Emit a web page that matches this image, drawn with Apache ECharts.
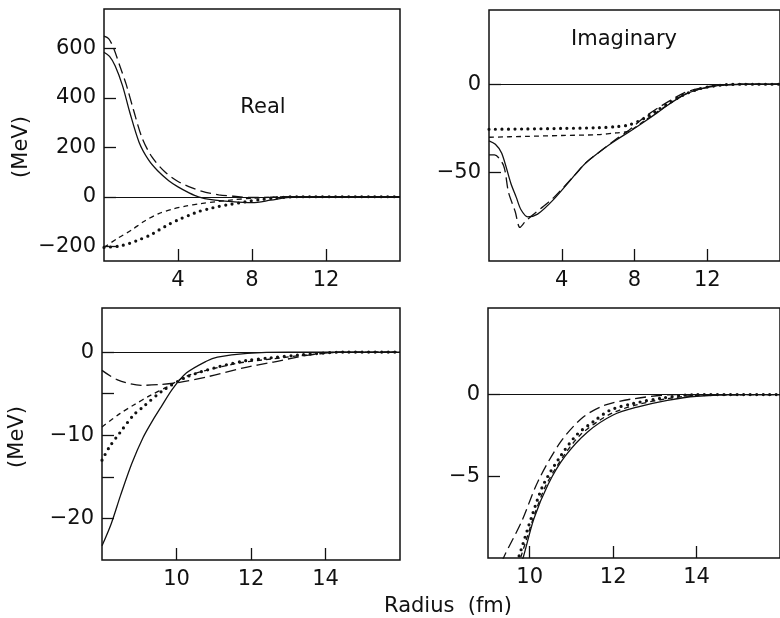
<!DOCTYPE html>
<html>
<head>
<meta charset="utf-8">
<script src="https://cdn.jsdelivr.net/npm/echarts@6/dist/echarts.min.js"></script>
<style>
  html, body { margin: 0; padding: 0; background: #fff; }
  #chart { width: 780px; height: 618px; }
</style>
</head>
<body>
<div id="chart"></div>
<script>
// top-left: real part, full radius range  [r (fm), V (MeV)]
var realSolid = [[0, 585], [0.3, 568], [0.6, 530], [1.0, 450], [1.4, 340], [1.9, 220], [2.4, 150], [2.9, 105], [3.5, 65], [4.0, 40], [4.6, 16], [5.1, 0], [5.8, -12], [6.9, -20], [8, -24], [9, -14], [10, -2], [11, 0], [16, 0]]
var realLongDash = [[0, 650], [0.25, 640], [0.5, 605], [0.9, 520], [1.2, 455], [1.6, 350], [2.05, 240], [2.6, 160], [3.3, 100], [4.0, 62], [4.8, 35], [5.5, 18], [6.2, 8], [7.0, 2], [8, -3], [9, -2], [10, 0], [16, 0]]
var realShortDash = [[0, -205], [0.7, -170], [1.5, -134], [2.2, -98], [2.96, -68], [3.7, -50], [4.4, -38], [5.2, -28], [6.05, -20], [7, -12], [8, -6], [9, -2], [10, 0], [16, 0]]
var realDotted = [[0, -205], [0.8, -200], [1.4, -188], [1.9, -174], [2.5, -155], [2.96, -135], [3.5, -112], [4.05, -92], [4.6, -75], [5.1, -60], [5.7, -48], [6.2, -39], [6.8, -31], [7.3, -25], [7.9, -17], [8.4, -12], [9.1, -6], [10, -1], [10.5, 0], [16, 0]]

// top-right: imaginary part
var imagSolid = [[0, -32], [0.35, -34], [0.7, -39], [1.2, -56], [1.5, -64], [1.76, -71], [2.13, -75], [2.67, -73.5], [3.57, -65], [4.75, -51], [5.33, -44.4], [6.3, -36.5], [7.0, -31.5], [7.7, -27], [8.5, -21.5], [9.2, -16.5], [9.8, -12], [10.4, -8], [11, -4.8], [11.7, -2.5], [12.3, -1.2], [13, -0.4], [14, 0], [16, 0]]
var imagLongDash = [[0, -40], [0.3, -40], [0.8, -46], [1.07, -61], [1.44, -72], [1.7, -81], [1.97, -78], [2.4, -74], [3.0, -69], [3.57, -64], [4.75, -51], [5.33, -44.4], [6.3, -36.5], [7.0, -31], [7.7, -26], [8.5, -19], [9.2, -14], [10, -9], [10.7, -5], [11.5, -2.5], [12.3, -1], [13, -0.3], [14, 0], [16, 0]]
var imagShortDash = [[0, -30], [2, -29.5], [4, -29], [6, -28.5], [7, -27.5], [7.7, -26.5], [8.5, -21], [9.2, -16], [10, -10.5], [10.7, -6], [11.5, -3], [12.3, -1.2], [13, -0.3], [14, 0], [16, 0]]
var imagDotted = [[0, -25.5], [2, -25.3], [4, -25], [6, -24.6], [7, -24], [7.7, -23], [8.5, -19.5], [9.2, -15], [10, -10], [10.7, -6], [11.5, -2.8], [12.3, -1.1], [13, -0.3], [14, 0], [16, 0]]

// bottom-left: real part, surface region
var tailRealSolid = [[8, -23.3], [8.25, -20.6], [8.5, -17.2], [8.8, -13.4], [9.1, -10.3], [9.35, -8.3], [9.6, -6.5], [9.9, -4.4], [10.27, -2.5], [10.8, -1.1], [11.1, -0.6], [11.9, -0.15], [13, 0], [16, 0]]
var tailRealLongDash = [[8, -2.2], [8.4, -3.3], [9.05, -4.0], [9.56, -3.9], [10, -3.7], [10.8, -3.0], [11.8, -1.9], [12.6, -1.2], [13.5, -0.4], [14.5, 0], [16, 0]]
var tailRealShortDash = [[8, -9], [8.48, -7.4], [8.84, -6.4], [9.3, -5.2], [9.74, -4.2], [10.27, -2.9], [10.8, -2.2], [11.7, -1.3], [12.6, -0.8], [13.5, -0.35], [14.5, 0], [16, 0]]
var tailRealDotted = [[8, -13], [8.2, -11.4], [8.48, -9.7], [8.84, -7.6], [9.1, -6.6], [9.64, -4.6], [10.27, -3.0], [11.1, -1.8], [11.9, -1.0], [12.5, -0.7], [13.3, -0.35], [14.5, 0], [16, 0]]

// bottom-right: imaginary part, surface region
var tailImagSolid = [[9.7, -11], [9.84, -10], [10.1, -7.6], [10.44, -5.5], [10.84, -3.8], [11.38, -2.3], [12.0, -1.25], [12.6, -0.75], [13.3, -0.35], [14, -0.1], [15, 0], [16, 0]]
var tailImagLongDash = [[9.2, -11.2], [9.37, -10], [9.8, -7.8], [10.2, -5.3], [10.74, -2.9], [11.27, -1.4], [11.8, -0.65], [12.5, -0.25], [13.5, 0], [16, 0]]
var tailImagShortDash = [[9.65, -11], [9.78, -10], [10.12, -7.3], [10.4, -5.5], [10.8, -3.8], [11.2, -2.5], [11.6, -1.7], [12.0, -1.1], [12.6, -0.6], [13.3, -0.25], [14, -0.05], [16, 0]]
var tailImagDotted = [[9.6, -11], [9.73, -10], [10.07, -7.3], [10.33, -5.5], [10.73, -3.8], [11.13, -2.45], [11.53, -1.65], [11.93, -0.95], [12.47, -0.55], [13.2, -0.2], [14, 0], [16, 0]]

// ticks
var realXTicks = [4, 8, 12]
var realYTicks = [-200, 0, 200, 400, 600]
var imagYTicks = [-50, 0]
var tailXTicks = [10, 12, 14]
var tailRealYTicks = [-20, -15, -10, -5, 0]
var tailRealYLabels = [-20, -10, 0]
var tailImagYTicks = [-5, 0]

var ink = '#111'
var font = 'DejaVu Sans'

var styles = {
  solid: { type: 'solid', width: 1.3 },
  longDash: { type: [11, 5], width: 1.3 },
  shortDash: { type: [5, 4], width: 1.3 },
  dotted: { type: [0, 6.5], width: 3.2, cap: 'round' }
}

var charts = echarts.init(document.getElementById('chart'))

function fmt (v) {
  return v < 0 ? '\u2212' + Math.abs(v) : String(v)
}

function xAxis (idx, min, max, ticks) {
  return {
    type: 'value',
    gridIndex: idx,
    min: min,
    max: max,
    axisLine: { show: false, onZero: false },
    splitLine: { show: false },
    axisTick: { inside: true, length: 12, customValues: ticks, lineStyle: { color: ink, width: 1.3 } },
    axisLabel: { customValues: ticks, margin: 9, color: ink, fontSize: 21, fontFamily: font }
  }
}

function yAxis (idx, min, max, ticks, labels) {
  return {
    type: 'value',
    gridIndex: idx,
    min: min,
    max: max,
    axisLine: { show: false, onZero: false },
    splitLine: { show: false },
    axisTick: { inside: true, length: 12, customValues: ticks, lineStyle: { color: ink, width: 1.3 } },
    axisLabel: { customValues: labels, margin: 8, color: ink, fontSize: 21, fontFamily: font, formatter: fmt }
  }
}

function line (idx, data, style, zero) {
  var s = {
    type: 'line',
    xAxisIndex: idx,
    yAxisIndex: idx,
    data: data,
    symbol: 'none',
    smooth: 0.3,
    silent: true,
    lineStyle: Object.assign({ color: ink }, styles[style])
  }
  if (zero) {
    s.markLine = {
      silent: true,
      symbol: 'none',
      label: { show: false },
      lineStyle: { color: ink, type: 'solid', width: 1.2 },
      data: [{ yAxis: 0 }]
    }
  }
  return s
}

var options = {
  backgroundColor: '#fff',
  animation: false,
  grid: [
    { left: 104, top: 9, width: 296, height: 252 },
    { left: 489, top: 10, width: 300, height: 251 },
    { left: 102, top: 308, width: 298, height: 252 },
    { left: 488, top: 308, width: 350, height: 250 }
  ].map(function (g) {
    return Object.assign({ show: true, borderColor: ink, borderWidth: 1.5, backgroundColor: 'transparent' }, g)
  }),
  xAxis: [
    xAxis(0, 0, 16, realXTicks),
    xAxis(1, 0, 16, realXTicks),
    xAxis(2, 8, 16, tailXTicks),
    xAxis(3, 9, 16, tailXTicks)
  ],
  yAxis: [
    yAxis(0, -260, 760, realYTicks, realYTicks),
    yAxis(1, -100, 42, imagYTicks, imagYTicks),
    yAxis(2, -25, 5.3, tailRealYTicks, tailRealYLabels),
    yAxis(3, -10, 5.3, tailImagYTicks, tailImagYTicks)
  ],
  graphic: [
    { type: 'text', x: 263, y: 108, style: { text: 'Real', fill: ink, font: '21px ' + font, align: 'center', verticalAlign: 'middle' } },
    { type: 'text', x: 624, y: 40, style: { text: 'Imaginary', fill: ink, font: '21px ' + font, align: 'center', verticalAlign: 'middle' } },
    { type: 'text', x: 22, y: 147, rotation: Math.PI / 2, style: { text: '(MeV)', fill: ink, font: '21px ' + font, align: 'center', verticalAlign: 'middle' } },
    { type: 'text', x: 18, y: 437, rotation: Math.PI / 2, style: { text: '(MeV)', fill: ink, font: '21px ' + font, align: 'center', verticalAlign: 'middle' } },
    { type: 'text', x: 448, y: 607, style: { text: 'Radius  (fm)', fill: ink, font: '21px ' + font, align: 'center', verticalAlign: 'middle' } }
  ],
  series: [
    line(0, realSolid, 'solid', true),
    line(0, realLongDash, 'longDash'),
    line(0, realShortDash, 'shortDash'),
    line(0, realDotted, 'dotted'),
    line(1, imagSolid, 'solid', true),
    line(1, imagLongDash, 'longDash'),
    line(1, imagShortDash, 'shortDash'),
    line(1, imagDotted, 'dotted'),
    line(2, tailRealSolid, 'solid', true),
    line(2, tailRealLongDash, 'longDash'),
    line(2, tailRealShortDash, 'shortDash'),
    line(2, tailRealDotted, 'dotted'),
    line(3, tailImagSolid, 'solid', true),
    line(3, tailImagLongDash, 'longDash'),
    line(3, tailImagShortDash, 'shortDash'),
    line(3, tailImagDotted, 'dotted')
  ]
}

charts.setOption(options)
</script>
</body>
</html>
